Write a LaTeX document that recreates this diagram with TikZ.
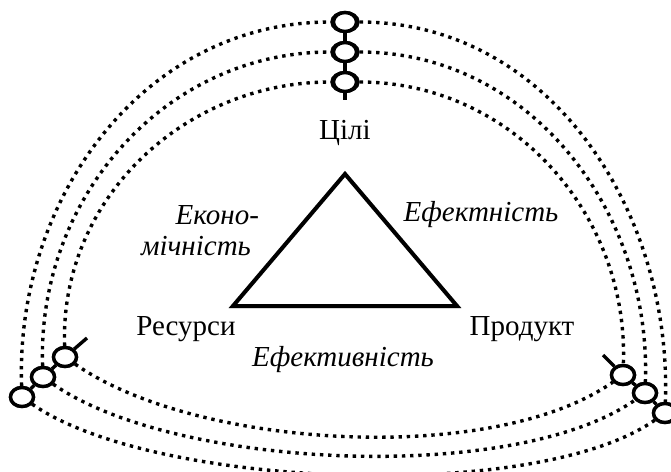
\documentclass[tikz,border=0pt]{standalone}
\usepackage{fontspec}
\setmainfont{Liberation Serif}
\usetikzlibrary{shapes.geometric,positioning}

\begin{document}
\begin{tikzpicture}[x=0.5pt, y=0.5pt,
    knot/.style={ellipse, draw, line width=1.7pt, fill=white, inner sep=0pt, minimum width=11.5pt, minimum height=9.5pt},
    topknot/.style={knot, minimum width=13pt},
    ring/.style={line width=1.7pt, dash pattern=on 1.7pt off 2.4pt},
    stalk/.style={line width=1.7pt},
    lbl/.style={font=\fontsize{14.5}{15.5}\selectfont, inner sep=0pt},
    ilbl/.style={lbl, font=\fontsize{14.5}{15.5}\selectfont\itshape}
  ]
    \useasboundingbox (0,0) rectangle (671,-472);

    % knots where the rings meet
    \node[topknot] (T1) at (345,-22) {};
    \node[topknot] (T2) at (345,-52) {};
    \node[topknot] (T3) at (345,-82) {};
    \node[knot] (L1) at (22,-397) {};
    \node[knot] (L2) at (43,-377) {};
    \node[knot] (L3) at (65,-357) {};
    \node[knot] (R1) at (665,-413) {};
    \node[knot] (R2) at (645,-393) {};
    \node[knot] (R3) at (623,-375) {};
    \coordinate (Tstem) at (345,-100);
    \coordinate (Ltick) at (87,-338);
    \coordinate (Rtick) at (603,-355);

    % three dotted rings
    \draw[ring] (L1) to[out=92,in=180] (T1) to[out=0,in=88] (R1);
    \draw[ring] (L2) to[out=92,in=180] (T2) to[out=0,in=88] (R2);
    \draw[ring] (L3) to[out=92,in=180] (T3) to[out=0,in=88] (R3);
    \draw[ring] (L1) to[out=-35,in=-145,looseness=0.6] (R1);
    \draw[ring] (L2) to[out=-35,in=-145,looseness=0.65] (R2);
    \draw[ring] (L3) to[out=-35,in=-145,looseness=0.7] (R3);

    \draw[stalk] (T1) -- (T2) -- (T3) -- (Tstem);
    \draw[stalk] (L1) -- (L2) -- (L3) -- (Ltick);
    \draw[stalk] (R1) -- (R2) -- (R3) -- (Rtick);
    \foreach \k in {T1,T2,T3,L1,L2,L3,R1,R2,R3}
      \node[knot] at (\k) {};

    % triangle
    \coordinate (apex) at (345,-174);
    \coordinate (res) at (233,-306);
    \coordinate (prod) at (457,-306);
    \draw[black!30, line width=2pt, line join=miter, shift={(2,-3)}] (apex) -- (res) -- (prod) -- cycle;
    \draw[line width=2pt, line join=miter, fill=white] (apex) -- (res) -- (prod) -- cycle;

    % labels
    \node[lbl] (goals) at (345,-133) {Цілі};
    \node[lbl] (resources) at (186,-329) {Ресурси};
    \node[lbl] (product) at (522,-329) {Продукт};
    \node[ilbl, align=right] (economy) at (200,-231) {Еконо-\\мічність\hspace*{4pt}};
    \node[ilbl] (effect) at (481,-215) {Ефектність};
    \node[ilbl] (efficiency) at (343,-360) {Ефективність};
\end{tikzpicture}
\end{document}
